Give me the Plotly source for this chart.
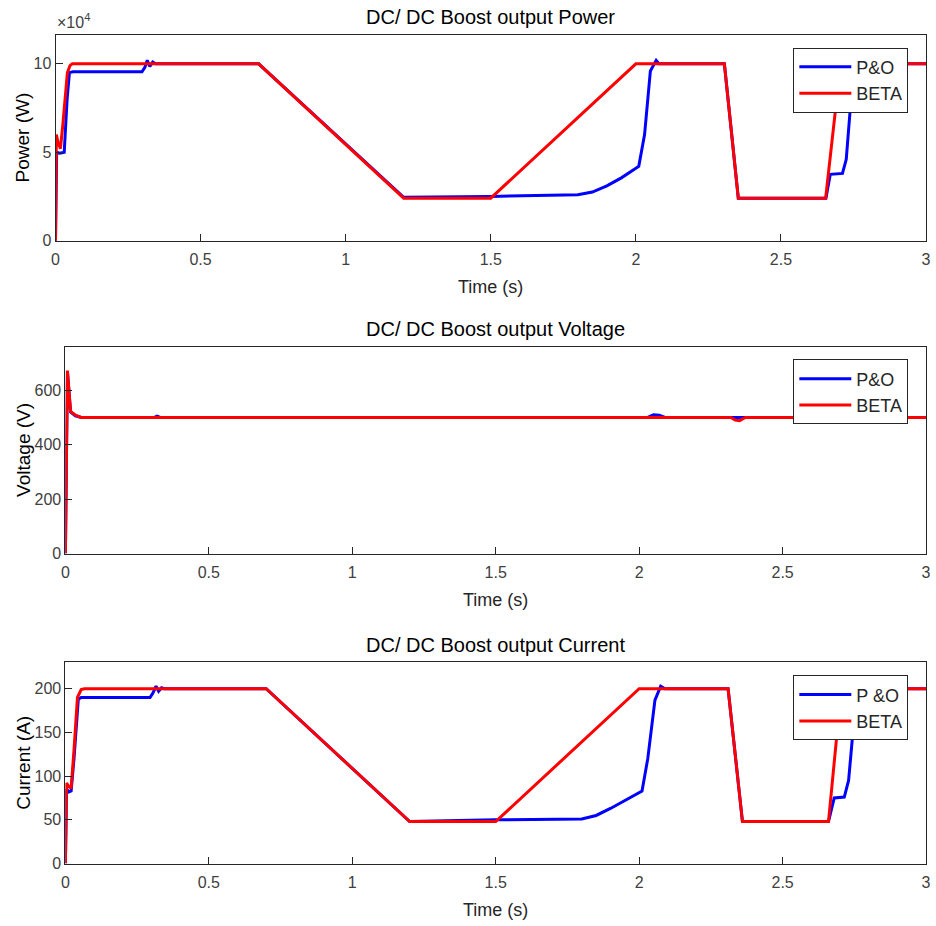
import plotly.graph_objects as go

W, H = 936, 926

# ---------------- data ----------------
# Power (x10^4 W)
t_pow_po = [0, 0.004, 0.015, 0.03, 0.04, 0.048, 0.06, 0.298, 0.308, 0.316, 0.325, 0.335, 0.345,
            0.7, 1.2, 1.5, 1.8, 1.85, 1.9, 1.95, 2.0, 2.01, 2.03, 2.05, 2.07, 2.08, 2.305, 2.353,
            2.655, 2.67, 2.712, 2.725, 2.74, 2.75, 2.765, 3.0]
pow_po = [0, 5.0, 4.95, 5.0, 8.0, 9.5, 9.55, 9.55, 9.8, 10.2, 9.85, 10.1, 10.0,
          10.0, 2.45, 2.5, 2.6, 2.75, 3.1, 3.55, 4.1, 4.2, 6.0, 9.6, 10.2, 10.0, 10.0, 2.4,
          2.4, 3.75, 3.8, 4.6, 7.7, 9.5, 10.0, 10.0]
t_pow_beta = [0, 0.003, 0.008, 0.017, 0.025, 0.041, 0.05, 0.058, 0.7, 1.2, 1.5, 2.0,
              2.305, 2.353, 2.654, 2.69, 2.71, 3.0]
pow_beta = [0, 6.0, 5.6, 5.2, 6.5, 9.5, 9.9, 10.0, 10.0, 2.4, 2.4, 10.0,
            10.0, 2.4, 2.4, 7.7, 10.0, 10.0]

# Voltage (V)
t_v_po = [0, 0.007, 0.018, 0.035, 0.055, 0.31, 0.32, 0.33, 2.03, 2.05, 2.07, 2.09, 3.0]
v_po = [0, 670, 520, 506, 500, 500, 505, 500, 500, 510, 508, 500, 500]
t_v_beta = [0, 0.007, 0.018, 0.035, 0.055, 2.32, 2.335, 2.35, 2.37, 3.0]
v_beta = [0, 672, 522, 508, 500, 500, 490, 488, 500, 500]

# Current (A)
t_c_po = [0, 0.004, 0.012, 0.02, 0.03, 0.045, 0.055, 0.295, 0.305, 0.316, 0.325, 0.335, 0.345,
          0.7, 1.2, 1.5, 1.8, 1.85, 1.9, 1.95, 2.0, 2.01, 2.03, 2.055, 2.075, 2.09, 2.31, 2.36,
          2.66, 2.68, 2.715, 2.73, 2.745, 2.76, 2.77, 3.0]
c_po = [0, 85, 82, 83, 120, 188, 190, 190, 195, 203, 197, 201, 200,
        200, 48, 50, 51, 55, 63, 72, 81, 83, 120, 187, 203, 200, 200, 48,
        48, 75, 76, 95, 150, 190, 200, 200]
t_c_beta = [0, 0.004, 0.012, 0.02, 0.03, 0.042, 0.055, 0.066, 0.7, 1.2, 1.5, 2.0,
            2.31, 2.36, 2.66, 2.69, 2.71, 3.0]
c_beta = [0, 92, 88, 86, 130, 190, 199, 200, 200, 48, 48, 200,
          200, 48, 48, 150, 200, 200]

x_ticks = [0, 0.5, 1, 1.5, 2, 2.5, 3]
x_ticktext = ["0", "0.5", "1", "1.5", "2", "2.5", "3"]
p_ticks = [0, 5, 10]
v_ticks = [0, 200, 400, 600]
c_ticks = [0, 50, 100, 150, 200]

titles = ["DC/ DC Boost output Power", "DC/ DC Boost output Voltage", "DC/ DC Boost output Current"]
ylabels = ["Power (W)", "Voltage (V)", "Current (A)"]
legend_po = ["P&O", "P&O", "P &O"]

BLUE = "#0000FF"
RED = "#FF0000"
FONT = "Liberation Sans, Arial, sans-serif"

def px_x(p):
    return p / W

def px_y(p):
    return 1 - p / H

# panel boxes in pixels (left, right, top, bottom)
boxes = [(52, 931, 35, 243), (62, 931, 350, 559), (62, 931, 669, 872)]
yranges = [[0, 11.65], [0, 760], [0, 230]]

fig = go.Figure()

series = [
    (t_pow_po, pow_po, t_pow_beta, pow_beta),
    (t_v_po, v_po, t_v_beta, v_beta),
    (t_c_po, c_po, t_c_beta, c_beta),
]
legend_names = ["legend", "legend2", "legend3"]

for i, (tpo, ypo, tb, yb) in enumerate(series):
    sfx = "" if i == 0 else str(i + 1)
    fig.add_trace(go.Scatter(x=tpo, y=ypo, mode="lines", name=legend_po[i],
                             line=dict(color=BLUE, width=3),
                             xaxis="x" + sfx, yaxis="y" + sfx, legend=legend_names[i]))
    fig.add_trace(go.Scatter(x=tb, y=yb, mode="lines", name="BETA",
                             line=dict(color=RED, width=3),
                             xaxis="x" + sfx, yaxis="y" + sfx, legend=legend_names[i]))

ytick_sets = [(p_ticks, [str(v) for v in p_ticks]),
              (v_ticks, [str(v) for v in v_ticks]),
              (c_ticks, [str(v) for v in c_ticks])]

layout = dict(
    width=W, height=H,
    margin=dict(l=0, r=0, t=0, b=0),
    paper_bgcolor="white", plot_bgcolor="white",
    font=dict(family=FONT, size=16, color="#262626"),
    showlegend=True,
)

annotations = []
for i, (l, r, t, b) in enumerate(boxes):
    sfx = "" if i == 0 else str(i + 1)
    axis_common = dict(showline=True, mirror=True, linecolor="#262626", linewidth=1,
                       ticks="inside", ticklen=7, tickcolor="#262626", showgrid=False,
                       zeroline=False, tickfont=dict(family=FONT, size=16, color="#404040"))
    layout["xaxis" + sfx] = dict(domain=[px_x(l), px_x(r)], range=[0, 3],
                                 anchor="y" + sfx, tickvals=x_ticks, ticktext=x_ticktext,
                                 ticklabelstandoff=4, **axis_common)
    layout["yaxis" + sfx] = dict(domain=[px_y(b), px_y(t)], range=yranges[i],
                                 anchor="x" + sfx, tickvals=ytick_sets[i][0],
                                 ticktext=ytick_sets[i][1], **axis_common)
    # title
    annotations.append(dict(text=titles[i], x=px_x((l + r) / 2), y=px_y(t - 18),
                            xref="paper", yref="paper", showarrow=False,
                            font=dict(family=FONT, size=20, color="black"),
                            xanchor="center", yanchor="middle"))
    # x label
    annotations.append(dict(text="Time (s)", x=px_x((l + r) / 2), y=px_y(b + 47),
                            xref="paper", yref="paper", showarrow=False,
                            font=dict(family=FONT, size=18, color="#262626"),
                            xanchor="center", yanchor="middle"))
    # y label
    annotations.append(dict(text=ylabels[i], x=px_x(19), y=px_y((t + b) / 2),
                            xref="paper", yref="paper", showarrow=False, textangle=-90,
                            font=dict(family=FONT, size=19, color="black"),
                            xanchor="center", yanchor="middle"))
    # legend
    key = legend_names[i]
    layout[key] = dict(x=px_x(797), y=px_y(t + 13), xanchor="left", yanchor="top",
                       xref="paper", yref="paper",
                       bgcolor="white", bordercolor="#262626", borderwidth=1,
                       font=dict(family=FONT, size=18, color="#262626"),
                       itemwidth=52, tracegroupgap=0)

annotations.append(dict(text="\u00d710<sup>4</sup>", x=px_x(51), y=px_y(33),
                        xref="paper", yref="paper", showarrow=False,
                        font=dict(family=FONT, size=16, color="#404040"),
                        xanchor="left", yanchor="bottom"))
layout["annotations"] = annotations

fig.update_layout(**layout)
fig.write_html("out.html")
